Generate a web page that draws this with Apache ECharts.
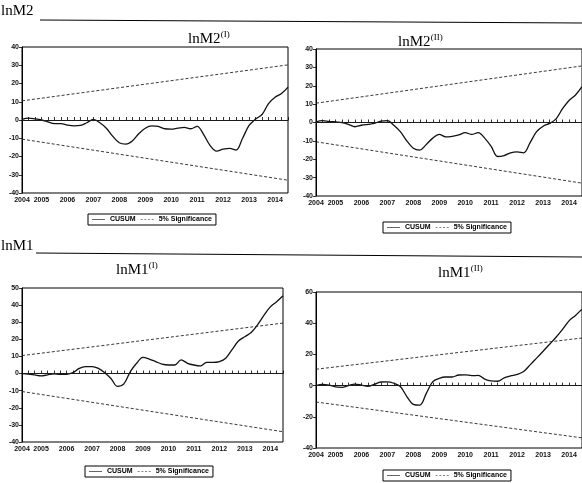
<!DOCTYPE html>
<html>
<head>
<meta charset="utf-8">
<script src="https://cdn.jsdelivr.net/npm/echarts@6/dist/echarts.min.js"></script>
<style>
html,body{margin:0;padding:0;background:#fff}
#c{width:582px;height:483px}
</style>
</head>
<body>
<div id="c"></div>
<script>
// Quarterly observation labels shared by all four CUSUM panels
const quarters = [
  '2004Q2','2004Q3','2004Q4',
  '2005Q1','2005Q2','2005Q3','2005Q4',
  '2006Q1','2006Q2','2006Q3','2006Q4',
  '2007Q1','2007Q2','2007Q3','2007Q4',
  '2008Q1','2008Q2','2008Q3','2008Q4',
  '2009Q1','2009Q2','2009Q3','2009Q4',
  '2010Q1','2010Q2','2010Q3','2010Q4',
  '2011Q1','2011Q2','2011Q3','2011Q4',
  '2012Q1','2012Q2','2012Q3','2012Q4',
  '2013Q1','2013Q2','2013Q3','2013Q4',
  '2014Q1','2014Q2','2014Q3'
];

// CUSUM statistics
const cusumM2I  = [0.3, 1.0, 0.6, 0.0, -1.0, -2.0, -2.0, -2.8, -3.2, -3.0, -1.5, 0.3, -1.5, -4.5, -9, -12.5, -13.2, -11.5, -7.5, -4.5, -3.2, -3.5, -4.8, -5.0, -4.5, -4.0, -4.8, -3.5, -8, -14, -17, -16, -15.5, -16.5, -10, -3, 0.5, 3, 9, 12.5, 14.5, 18];
const cusumM2II = [0.3, 1.0, 0.6, 0.3, 0, -1.0, -2.3, -1.5, -1.0, -0.5, 0.8, 1.0, -1.5, -5, -10, -14, -15, -12, -8.5, -6.5, -7.8, -7.5, -6.8, -5.5, -6.5, -5.5, -8.5, -13, -18.5, -18, -16.5, -16, -16.5, -11, -5, -2, -0.5, 2, 7.5, 12, 15, 19.5];
const cusumM1I  = [0, -0.3, -0.8, -1.3, -0.8, -0.2, -0.5, -0.4, 0.5, 3, 4, 4, 3, 0.5, -3, -7.5, -6, 1, 6, 9.5, 8.5, 7, 5.5, 5, 5, 8, 6, 5, 4.5, 6.5, 6.5, 7, 9, 14, 19, 21.5, 24, 28.5, 34, 39, 42, 45.5];
const cusumM1II = [0, 0.8, 0.3, -0.8, -1.1, 0, 1.0, 0.3, -0.5, 0.8, 2.3, 2.4, 1.5, -0.6, -7, -12, -12.5, -5, 2.5, 4.7, 5.5, 5.5, 6.8, 6.9, 6.4, 6.5, 4.2, 3.0, 2.8, 5, 6.2, 7.2, 9, 13.3, 17.6, 22, 26.5, 31, 36, 41.5, 45, 49];

// 5% significance bounds: [first observation, last observation]
const sigUpperM2I  = [10.5, 30.2];
const sigLowerM2I  = [-10.5, -33];
const sigUpperM2II = [10.5, 30.8];
const sigLowerM2II = [-10.5, -33];
const sigUpperM1I  = [10.5, 29.5];
const sigLowerM1I  = [-10.5, -34];
const sigUpperM1II = [10.5, 30.5];
const sigLowerM1II = [-10.5, -33.5];

// Y-axis ranges per panel: [min, max, step]
const yRangeM2I  = [-40, 40, 10];
const yRangeM2II = [-40, 40, 10];
const yRangeM1I  = [-40, 50, 10];
const yRangeM1II = [-40, 60, 20];

const panels = [
  {cusum: cusumM2I,  up: sigUpperM2I,  lo: sigLowerM2I,  y: yRangeM2I,
   grid: {left: 22,  top: 47,  width: 266, height: 146}, legend: {left: 88,  top: 214}},
  {cusum: cusumM2II, up: sigUpperM2II, lo: sigLowerM2II, y: yRangeM2II,
   grid: {left: 316, top: 49,  width: 266, height: 147}, legend: {left: 383, top: 222}},
  {cusum: cusumM1I,  up: sigUpperM1I,  lo: sigLowerM1I,  y: yRangeM1I,
   grid: {left: 22,  top: 288, width: 261, height: 154}, legend: {left: 85,  top: 466}},
  {cusum: cusumM1II, up: sigUpperM1II, lo: sigLowerM1II, y: yRangeM1II,
   grid: {left: 316, top: 292, width: 266, height: 156}, legend: {left: 383, top: 470}}
];

const lastQ = quarters[quarters.length - 1];
const ink = '#111';
const axisFont = {fontSize: 7, fontWeight: 'bold', fontFamily: 'Liberation Sans', color: ink};

// Legend keys: a solid rule for CUSUM and a dashed rule for the bounds
const solidKey = 'path://M0,0H20V1H0Z';
const dashKey = 'path://M0,0H3V1H0Z M5.5,0H8.5V1H5.5Z M11,0H14V1H11Z M16.5,0H19.5V1H16.5Z';

const grids = [], xAxes = [], yAxes = [], series = [], legends = [];
panels.forEach((p, k) => {
  grids.push(Object.assign({show: true, borderColor: '#000', borderWidth: 1, backgroundColor: 'transparent'}, p.grid));
  xAxes.push({
    type: 'category', gridIndex: k, data: quarters, boundaryGap: false,
    axisLine: {lineStyle: {color: '#000', width: 1}},
    axisTick: {show: true, inside: true, length: 3, interval: 0, lineStyle: {color: '#000', width: 0.8}},
    axisLabel: Object.assign({
      interval: (i, v) => i === 0 || v.endsWith('Q1'),
      formatter: v => v.slice(0, 4), margin: 4
    }, axisFont),
    splitLine: {show: false}
  });
  yAxes.push({
    type: 'value', gridIndex: k, min: p.y[0], max: p.y[1], interval: p.y[2],
    axisLine: {show: true, lineStyle: {color: '#000', width: 1}},
    axisTick: {show: true, length: 3, lineStyle: {color: '#000', width: 0.8}},
    axisLabel: Object.assign({margin: 3}, axisFont),
    splitLine: {show: false}
  });
  series.push({
    name: 'CUSUM', type: 'line', xAxisIndex: k, yAxisIndex: k, color: ink,
    data: p.cusum, smooth: 0.35, symbol: 'none',
    lineStyle: {color: ink, width: 1.3},
    markLine: {
      silent: true, symbol: 'none', label: {show: false},
      lineStyle: {color: '#222', width: 0.8, type: 'solid'},
      data: [{yAxis: 0}]
    },
    z: 3
  });
  [p.up, p.lo].forEach(b => series.push({
    name: '5% Significance', type: 'line', xAxisIndex: k, yAxisIndex: k, color: ink,
    data: [[quarters[0], b[0]], [lastQ, b[1]]], symbol: 'none',
    lineStyle: {color: '#222', width: 0.9, type: [3, 2]}
  }));
  legends.push({
    data: [{name: 'CUSUM', icon: solidKey}, {name: '5% Significance', icon: dashKey}],
    left: p.legend.left, top: p.legend.top,
    orient: 'horizontal', selectedMode: false,
    itemWidth: 13, itemHeight: 1, itemGap: 5, padding: [2, 4, 2, 4],
    borderColor: '#000', borderWidth: 1,
    textStyle: {fontSize: 7, fontWeight: 'bold', fontFamily: 'Liberation Sans', color: '#000'}
  });
});

// Section headings, rules and panel titles
const serif = 'Liberation Serif';
function titleText(x, y, main, sup) {
  return {
    type: 'group', left: x, top: y,
    children: [
      {type: 'text', left: 0, top: 0, style: {text: main, font: '15px ' + serif, fill: '#000'}},
      {type: 'text', left: main.length * 8.2, top: -2, style: {text: sup, font: '9px ' + serif, fill: '#000'}}
    ]
  };
}
const graphics = [
  {type: 'text', left: 1, top: 4, style: {text: 'lnM2', font: '15px ' + serif, fill: '#000'}},
  {type: 'line', shape: {x1: 40, y1: 20, x2: 582, y2: 23}, style: {stroke: '#000', lineWidth: 1}},
  {type: 'text', left: 1, top: 239, style: {text: 'lnM1', font: '15px ' + serif, fill: '#000'}},
  {type: 'line', shape: {x1: 36, y1: 253, x2: 582, y2: 257}, style: {stroke: '#000', lineWidth: 1}},
  titleText(188, 30, 'lnM2', '(I)'),
  titleText(398, 33, 'lnM2', '(II)'),
  titleText(116, 261, 'lnM1', '(I)'),
  titleText(438, 264, 'lnM1', '(II)')
];

const chart = echarts.init(document.getElementById('c'), null, {renderer: 'canvas'});
chart.setOption({
  animation: false,
  backgroundColor: '#fff',
  grid: grids, xAxis: xAxes, yAxis: yAxes,
  legend: legends, series: series, graphic: graphics
});
</script>
</body>
</html>
